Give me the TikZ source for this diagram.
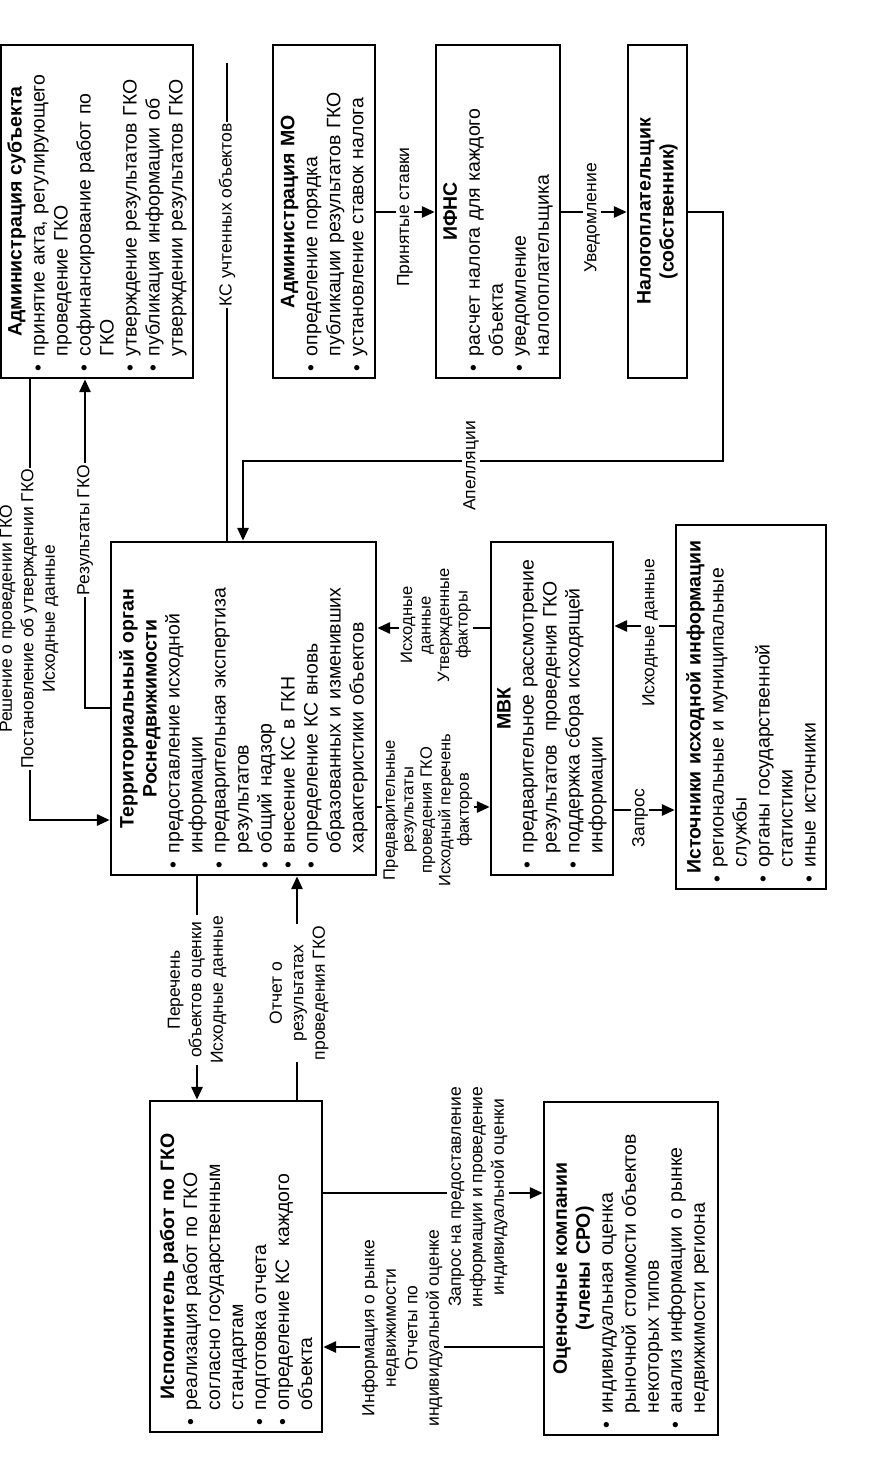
\documentclass[tikz,border=0pt]{standalone}
\usepackage{fontspec}
\setmainfont{Liberation Sans}
\usetikzlibrary{arrows.meta}
\newcommand\bul{\makebox[15pt][l]{\textbullet}}
\newcommand\ind{\hspace*{15pt}}
\newcommand\ttl[1]{\makebox[\linewidth]{\bfseries #1}}
\begin{document}
\begin{tikzpicture}[x=1pt,y=-1pt,
  box/.style={draw, line width=2.4pt, rotate=90, inner xsep=7pt, inner ysep=0pt, align=left, font=\fontsize{19.5}{23}\selectfont},
  lbl/.style={rotate=90, fill=white, inner sep=1.5pt, align=center, font=\fontsize{17.5}{21.5}\selectfont},
  slbl/.style={lbl, font=\fontsize{16.5}{18.5}\selectfont},
  ln/.style={line width=2.8pt},
  arr/.style={ln, -{Triangle[length=13pt,width=11pt]}}]
\useasboundingbox (0,0) rectangle (884,1461);

% boxes
\node[box, minimum width=333pt, minimum height=192pt, text width=319pt] (A) at (97,211.5) {%
\ttl{Администрация субъекта}\\
\bul принятие акта, регулирующего\\
\ind проведение ГКО\\
\bul софинансирование работ по\\
\ind ГКО\\
\bul утверждение результатов ГКО\\
\bul публикация информации об\\
\ind утверждении результатов ГКО};

\node[box, minimum width=333pt, minimum height=102pt, text width=319pt] (MO) at (324,211.5) {%
\ttl{Администрация МО}\\
\bul определение порядка\\
\ind публикации результатов ГКО\\
\bul установление ставок налога};

\node[box, minimum width=333pt, minimum height=124pt, text width=319pt] (IF) at (498,211.5) {%
\ttl{ИФНС}\\
\bul расчет налога для каждого\\
\ind объекта\\
\bul уведомление\\
\ind налогоплательщика};

\node[box, minimum width=333pt, minimum height=59pt, text width=319pt] (NP) at (657.5,211.5) {%
\ttl{Налогоплательщик}\\
\ttl{(собственник)}};

\node[box, minimum width=333pt, minimum height=265pt, text width=319pt] (TO) at (243.5,708.5) {%
\ttl{Территориальный орган}\\
\ttl{Роснедвижимости}\\
\bul предоставление исходной\\
\ind информации\\
\bul предварительная экспертиза\\
\ind результатов\\
\bul общий надзор\\
\bul внесение КС в ГКН\\
\bul определение КС вновь\\
\ind образованных и изменивших\\
\ind характеристики объектов};

\node[box, minimum width=333pt, minimum height=122pt, text width=319pt] (MBK) at (552,708.5) {%
\ttl{МВК}\\
\bul предварительное рассмотрение\\
\ind результатов\ \ проведения ГКО\\
\bul поддержка сбора исходящей\\
\ind информации};

\node[box, minimum width=364pt, minimum height=150pt, text width=350pt] (IS) at (751,707) {%
\ttl{Источники исходной информации}\\
\bul региональные и муниципальные\\
\ind службы\\
\bul органы государственной\\
\ind статистики\\
\bul иные источники};

\node[box, minimum width=331pt, minimum height=172pt, text width=317pt] (ISP) at (236,1266.5) {%
\ttl{Исполнитель работ по ГКО}\\
\bul реализация работ по ГКО\\
\ind согласно государственным\\
\ind стандартам\\
\bul подготовка отчета\\
\bul определение КС\ \ каждого\\
\ind объекта};

\node[box, minimum width=333pt, minimum height=174pt, text width=319pt] (OK) at (631,1268.5) {%
\ttl{Оценочные компании}\\
\ttl{(члены СРО)}\\
\bul индивидуальная оценка\\
\ind рыночной стоимости объектов\\
\ind некоторых типов\\
\bul анализ информации о рынке\\
\ind недвижимости региона};

% connectors
\coordinate (kstop) at (227,63);
\coordinate (apc) at (723,461);
\draw[arr] (A.west -| 30,0) |- (TO.north |- 0,820);
\draw[arr] (TO.north |- 0,708) -| (A.west -| 85,0);
\draw[ln] (kstop) -- (TO.east -| 227,0);
\draw[arr] (NP.south |- 0,212) -| (apc) -| (TO.east -| 243,0);
\draw[arr] (MO.south |- 0,212) -- (IF.north |- 0,212);
\draw[arr] (IF.south |- 0,212) -- (NP.north |- 0,212);
\draw[arr] (TO.west -| 197,0) -- (ISP.east -| 197,0);
\draw[arr] (ISP.east -| 297,0) -- (TO.west -| 297,0);
\draw[arr] (MBK.north |- 0,628) -- (TO.south |- 0,628);
\draw[arr] (TO.south |- 0,807) -- (MBK.north |- 0,807);
\draw[arr] (IS.north |- 0,626) -- (MBK.south |- 0,626);
\draw[arr] (MBK.south |- 0,810) -- (IS.north |- 0,810);
\draw[arr] (ISP.south |- 0,1193) -- (OK.north |- 0,1193);
\draw[arr] (OK.north |- 0,1347) -- (ISP.south |- 0,1347);

% labels
\node[lbl] (l1) at (29,619) {Решение о проведении ГКО\\Постановление об утверждении ГКО\\Исходные данные};
\node[lbl] (l2) at (85,530) {Результаты ГКО};
\node[lbl] (l3) at (227,215) {КС учтенных объектов};
\node[lbl] (l4) at (405,217) {Принятые ставки};
\node[lbl] (l5) at (592,218) {Уведомление};
\node[lbl] (l6) at (471,466) {Апелляции};
\node[lbl] (l7) at (197,990) {Перечень\\объектов оценки\\Исходные данные};
\node[lbl] (l8) at (299,993) {Отчет о\\результатах\\проведения ГКО};
\node[slbl] (l9) at (436,625) {Исходные\\данные\\Утвержденные\\факторы};
\node[slbl] (l10) at (428,810) {Предварительные\\результаты\\проведения ГКО\\Исходный перечень\\факторов};
\node[lbl] (l11) at (650,633) {Исходные данные};
\node[lbl] (l12) at (640,818) {Запрос};
\node[lbl] (l13) at (478,1197) {Запрос на предоставление\\информации и проведение\\индивидуальной оценки};
\node[lbl] (l14) at (402,1328) {Информация о рынке\\недвижимости\\Отчеты по\\индивидуальной оценке};
\end{tikzpicture}
\end{document}
